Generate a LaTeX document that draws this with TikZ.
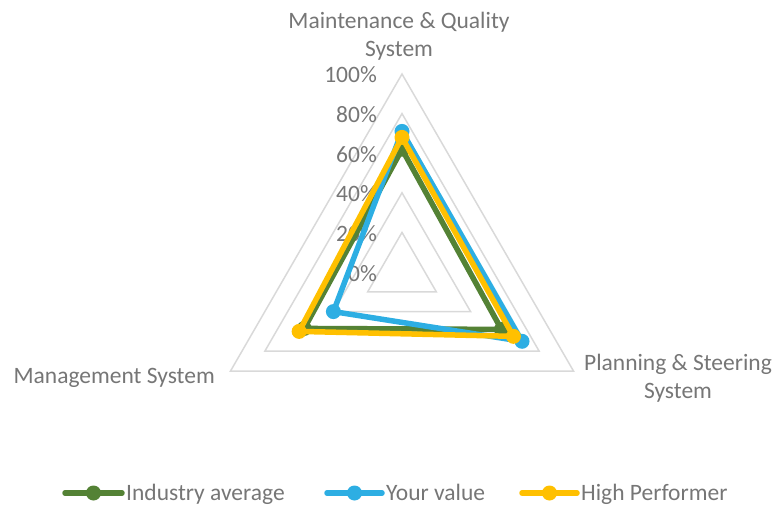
\documentclass[tikz,border=0pt]{standalone}
\usepackage{fontspec}
\setmainfont{Carlito}
\usetikzlibrary{positioning,calc}

\definecolor{avggreen}{HTML}{548235}
\definecolor{valblue}{HTML}{2DAEE3}
\definecolor{topyellow}{HTML}{FFC000}
\definecolor{gridgray}{HTML}{D9D9D9}
\definecolor{txtgray}{HTML}{767676}

\begin{document}
\begin{tikzpicture}[
        x=1pt, y=1pt,
        every node/.style={font=\fontsize{23.5}{28.5}\selectfont, text=txtgray, inner sep=0pt},
        grid/.style={draw=gridgray, line width=1.5pt},
        series/.style={line width=5.5pt, line join=round},
        dot/.style={circle, fill=#1, minimum size=15pt, inner sep=0pt}
    ]
        \useasboundingbox (0,0) rectangle (776,507);
        \coordinate (c) at (402,235);

        % rings
        \foreach \r in {1,...,5}
            \draw[grid, shift={(c)}] (90:\r*39.6) -- (210:\r*39.6) -- (330:\r*39.6) -- cycle;

        % axis labels
        \foreach \k/\v in {0/0,1/20,2/40,3/60,4/80,5/100}
            \node[anchor=base east] (tick\v) at (377, 226+\k*39.6) {\v\%};

        % categories
        \node[align=center] (maint) at (399, 471) {Maintenance \& Quality\\System};
        \node[anchor=base east] (mgmt) at (215, 124) {Management System};
        \node[align=center] (plan) at (678, 129) {Planning \& Steering\\System};

        % series
        \foreach \name/\col/\a/\b/\d in {avg/avggreen/.62/.57/.58, you/valblue/.71/.40/.70, high/topyellow/.68/.60/.65} {
            \coordinate (\name-t) at ($(c)+(90:\a*198)$);
            \coordinate (\name-l) at ($(c)+(210:\b*198)$);
            \coordinate (\name-r) at ($(c)+(330:\d*198)$);
            \draw[series, \col] (\name-t) -- (\name-l) -- (\name-r) -- cycle;
            \foreach \p in {t,l,r}
                \node[dot=\col] (\name-dot-\p) at (\name-\p) {};
        }

        % legend
        \foreach \name/\col/\xa/\xb/\txt in {avg/avggreen/65/122/Industry average, you/valblue/327/382/Your value, high/topyellow/522/577/High Performer} {
            \coordinate (\name-la) at (\xa,14);
            \coordinate (\name-lb) at (\xb,14);
            \draw[series, \col, line cap=round] (\name-la) -- (\name-lb);
            \node[dot=\col] (\name-key) at ($(\name-la)!0.5!(\name-lb)$) {};
            \node[anchor=base west] (\name-txt) at ($(\name-lb)+(4,-7)$) {\txt};
        }
    \end{tikzpicture}
\end{document}
